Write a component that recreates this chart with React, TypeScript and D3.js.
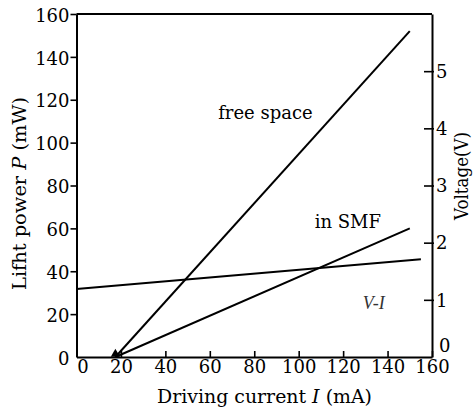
import React, { useEffect, useRef } from "react";
import * as d3 from "d3";

// axis ticks
const currentTicks = [0, 20, 40, 60, 80, 100, 120, 140, 160];
const powerTicks = [0, 20, 40, 60, 80, 100, 120, 140, 160];
const voltageTicks = [0, 1, 2, 3, 4, 5];

// L-I curves (mA, mW)
const freeSpaceCurrent = [17.5, 150];
const freeSpacePower = [0, 152];
const smfCurrent = [17.5, 150];
const smfPower = [0, 60];

// V-I curve (mA, V)
const viCurrent = [0, 155];
const viVoltage = [1.19, 1.71];

// curve labels: text, current, power, anchor
const labelText = ["free space", "in SMF", "V-I"];
const labelCurrent = [106.3, 107.2, 128.8];
const labelPower = [111, 60.2, 22.4];
const labelAnchor = ["end", "start", "start"];

const App = () => {
  const ref = useRef<SVGSVGElement>(null);

  useEffect(() => {
    drawChart();
  }, []);

  const drawChart = () => {
    const width = 473;
    const height = 410;
    const margin = { top: 14, right: 41, bottom: 53, left: 76.5 };
    const font = "'DejaVu Serif', 'Liberation Serif', serif";
    const times = "'Liberation Serif', 'Times New Roman', serif";

    const svg = d3.select(ref.current);
    svg.selectAll("*").remove();

    const x = d3.scaleLinear().domain([0, 160]).range([margin.left, width - margin.right]);
    const y = d3.scaleLinear().domain([0, 160]).range([height - margin.bottom, margin.top]);
    const yV = d3.scaleLinear().domain([0, 6]).range([height - margin.bottom, margin.top]);

    const x0 = x.range()[0];
    const x1 = x.range()[1];
    const y0 = y.range()[0];
    const y1 = y.range()[1];
    const fmt = d3.format("d");

    // left axis, outward ticks
    const left = svg
      .append("g")
      .attr("transform", `translate(${x0},0)`)
      .call(d3.axisLeft(y).tickValues(powerTicks).tickFormat(fmt).tickSize(6).tickSizeOuter(0).tickPadding(1));

    // bottom axis, inward ticks
    const bottom = svg
      .append("g")
      .attr("transform", `translate(0,${y0})`)
      .call(d3.axisBottom(x).tickValues(currentTicks).tickFormat(fmt).tickSize(-6).tickSizeOuter(0).tickPadding(4));

    // right axis, ticks across the line
    const right = svg
      .append("g")
      .attr("transform", `translate(${x1},0)`)
      .call(d3.axisRight(yV).tickValues(voltageTicks).tickFormat(fmt).tickSize(2).tickSizeOuter(0).tickPadding(2));
    right.selectAll(".tick line").attr("x1", -8);

    [left, bottom, right].forEach((g) => {
      g.selectAll(".domain").attr("stroke", "#000").attr("stroke-width", 2);
      g.selectAll(".tick line").attr("stroke", "#000").attr("stroke-width", 1.6);
      g.selectAll("text")
        .attr("fill", "#000")
        .style("font-family", font)
        .style("font-size", "18px");
    });
    bottom.selectAll("text").attr("dy", "0.65em");
    bottom.selectAll(".tick").filter((d) => d === 0).select("text").attr("dx", 6);
    right.selectAll("text").attr("dy", "0.35em");
    right.selectAll(".tick").filter((d) => d === 0).select("text").attr("dy", "-0.3em").attr("dx", 3);
    right.selectAll(".tick").filter((d) => d === 0).select("line").remove();
    left.selectAll("text").attr("dy", "0.4em");
    left.selectAll(".tick").filter((d) => d === 0).select("line").remove();

    // top frame
    svg
      .append("line")
      .attr("x1", x0)
      .attr("x2", x1)
      .attr("y1", y1)
      .attr("y2", y1)
      .attr("stroke", "#000")
      .attr("stroke-width", 2);

    // curves
    const drawCurve = (xs: number[], ys: number[], scale: d3.ScaleLinear<number, number>) => {
      const pts = xs.map((c, i) => [x(c), scale(ys[i])] as [number, number]);
      svg
        .append("path")
        .attr("d", d3.line()(pts))
        .attr("fill", "none")
        .attr("stroke", "#000")
        .attr("stroke-width", 2);
    };
    drawCurve(freeSpaceCurrent, freeSpacePower, y);
    drawCurve(smfCurrent, smfPower, y);
    drawCurve(viCurrent, viVoltage, yV);

    // threshold marker
    svg
      .append("path")
      .attr("d", d3.symbol(d3.symbolTriangle, 36)())
      .attr("transform", `translate(${x(freeSpaceCurrent[0])},${y(0) - 3})`)
      .attr("fill", "#000");

    // curve labels
    labelText.forEach((t, i) => {
      svg
        .append("text")
        .attr("x", x(labelCurrent[i]))
        .attr("y", y(labelPower[i]))
        .attr("text-anchor", labelAnchor[i])
        .attr("fill", i === 2 ? "#333" : "#000")
        .style("font-family", i === 2 ? times : font)
        .style("font-size", "18px")
        .style("font-style", i === 2 ? "italic" : "normal")
        .text(t);
    });

    // axis titles, with italic symbols
    const title = (parts: string[], sel: any) => {
      parts.forEach((p, i) => {
        sel
          .append("tspan")
          .style("font-style", i === 1 ? "italic" : "normal")
          .text(p);
      });
    };

    const xt = svg
      .append("text")
      .attr("x", 157)
      .attr("y", 403)
      .attr("textLength", 215)
      .attr("lengthAdjust", "spacingAndGlyphs")
      .style("font-family", font)
      .style("font-size", "18px");
    title(["Driving current ", "I", " (mA)"], xt);

    const yt = svg
      .append("text")
      .attr("transform", `translate(26,290) rotate(-90)`)
      .attr("textLength", 193)
      .attr("lengthAdjust", "spacingAndGlyphs")
      .style("font-family", font)
      .style("font-size", "18px");
    title(["Lifht power ", "P", " (mW)"], yt);

    svg
      .append("text")
      .attr("transform", `translate(468,220) rotate(-90)`)
      .attr("textLength", 88)
      .attr("lengthAdjust", "spacingAndGlyphs")
      .style("font-family", font)
      .style("font-size", "18px")
      .text("Voltage(V)");
  };

  return (
    <svg
      ref={ref}
      width={473}
      height={410}
      style={{ position: "absolute", left: 0, top: 0, background: "#fff" }}
    />
  );
};

export default App;
